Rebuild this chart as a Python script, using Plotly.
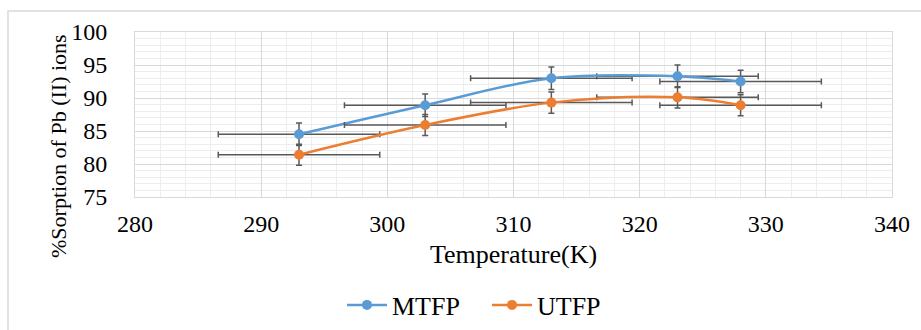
import plotly.graph_objects as go

temperature = [293, 303, 313, 323, 328]
mtfp = [84.5, 88.9, 93.0, 93.3, 92.5]
utfp = [81.4, 85.9, 89.3, 90.1, 88.9]
x_err = [6.4, 6.4, 6.4, 6.4, 6.4]
mtfp_err = [1.7, 1.7, 1.7, 1.7, 1.7]
utfp_err = [1.6, 1.6, 1.6, 1.6, 1.6]
x_ticks = [280, 290, 300, 310, 320, 330, 340]
y_ticks = [75, 80, 85, 90, 95, 100]

FONT = "Liberation Serif"
ERR_COLOR = "#595959"

W, H = 921, 330
L, R, T, B = 135, 29, 32, 133
pw, ph = W - L - R, H - T - B


def px(x):
    return (x - L) / pw


def py(y):
    return (H - B - y) / ph


fig = go.Figure()
for name, vals, errs, color in [("MTFP", mtfp, mtfp_err, "#5B9BD5"),
                                ("UTFP", utfp, utfp_err, "#ED7D31")]:
    fig.add_trace(go.Scatter(
        x=temperature, y=vals, name=name, mode="lines+markers",
        line=dict(color=color, width=2.5, shape="spline", smoothing=1),
        marker=dict(color=color, size=10),
        error_x=dict(type="data", array=x_err, color=ERR_COLOR, thickness=1.5, width=3),
        error_y=dict(type="data", array=errs, color=ERR_COLOR, thickness=1.5, width=3),
    ))

fig.update_xaxes(
    range=[280, 340], tickvals=x_ticks, ticktext=[str(v) for v in x_ticks],
    showgrid=True, gridcolor="#D9D9D9", gridwidth=1,
    minor=dict(dtick=2, showgrid=True, gridcolor="#EDEDED", gridwidth=1),
    showline=True, mirror=True, linecolor="#D9D9D9", linewidth=1,
    zeroline=False, ticks="", ticklabelstandoff=5,
    tickfont=dict(family=FONT, size=24, color="#000000"),
)
fig.update_yaxes(
    range=[75, 100], tickvals=y_ticks, ticktext=[str(v) for v in y_ticks],
    showgrid=True, gridcolor="#D9D9D9", gridwidth=1,
    minor=dict(dtick=1, showgrid=True, gridcolor="#EDEDED", gridwidth=1),
    showline=True, mirror=True, linecolor="#D9D9D9", linewidth=1,
    zeroline=False, ticks="", ticklabelstandoff=22,
    tickfont=dict(family=FONT, size=24, color="#000000"),
)

fig.update_layout(
    width=W, height=H,
    margin=dict(l=L, r=R, t=T, b=B, autoexpand=False),
    paper_bgcolor="white", plot_bgcolor="white",
    font=dict(family=FONT, color="#000000"),
    showlegend=True,
    legend=dict(orientation="h", x=px(342), y=py(305), xanchor="left", yanchor="middle",
                font=dict(family=FONT, size=26, color="#000000"),
                itemwidth=40, entrywidth=90, entrywidthmode="pixels",
                bgcolor="rgba(0,0,0,0)"),
    annotations=[
        dict(text="Temperature(K)", xref="paper", yref="paper", x=px(513), y=py(254),
             xanchor="center", yanchor="middle", showarrow=False,
             font=dict(family=FONT, size=26, color="#000000")),
        dict(text="%Sorption of Pb (II) ions", xref="paper", yref="paper", x=px(58), y=py(146),
             xanchor="center", yanchor="middle", showarrow=False, textangle=-90,
             font=dict(family=FONT, size=22, color="#000000")),
    ],
    shapes=[
        dict(type="rect", xref="paper", yref="paper", x0=px(8), x1=px(940), y0=py(11), y1=py(345),
             line=dict(color="#D9D9D9", width=1.5), fillcolor="rgba(0,0,0,0)", layer="below"),
    ],
)

fig.write_html("out.html", config={"displayModeBar": False},
               post_script="document.body.style.margin='0';document.body.style.overflow='hidden';")
